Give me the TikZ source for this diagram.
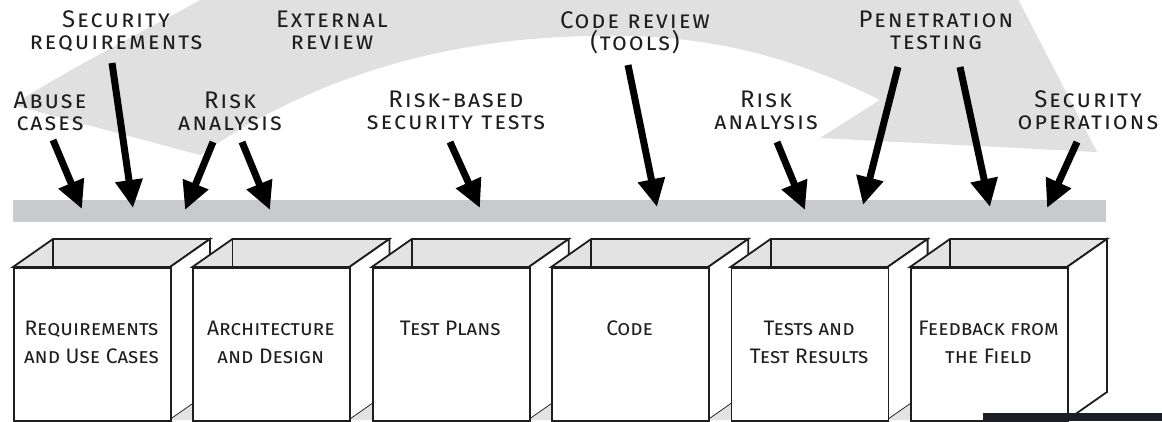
\documentclass[tikz,border=0pt]{standalone}
\usepackage{fontspec}
\setmainfont{Fira Sans}
\usetikzlibrary{arrows.meta}
\definecolor{band}{HTML}{E0E0E0}
\definecolor{barg}{HTML}{C9CACE}
\definecolor{topg}{HTML}{E3E3E3}
\definecolor{ink}{HTML}{1E1E1E}
\definecolor{darkbar}{HTML}{1C2026}
\begin{document}
\begin{tikzpicture}[x=1pt,y=-1pt,
 lab/.style={align=center,inner sep=0pt,anchor=base,font=\fontsize{24}{22}\selectfont\addfontfeature{LetterSpace=8}\scshape,text=ink},
 boxlab/.style={align=center,inner sep=0pt,anchor=base,font=\fontsize{21}{28}\selectfont\scshape,text=ink},
 feed/.style={line width=7pt,draw=black,-{Triangle[width=26pt,length=28pt]}},
 edge/.style={draw=ink,line width=1.8pt,line join=miter}]

\useasboundingbox (0,0) rectangle (1162,421);
\fill[white] (0,0) rectangle (1162,421);

% big curved gray arrow
\begin{scope}
\clip (0,0) rectangle (1162,421);
\fill[band] (13,105) .. controls (70,68) and (150,28) .. (215,-8) -- (230,-30) -- (1003,-30)
  -- (1097,152) -- (820,138) -- (880,100)
  .. controls (780,50) and (690,33) .. (590,36)
  .. controls (470,38) and (330,65) .. (200,155) -- cycle;
\end{scope}

% bar
\node[fill=barg, minimum width=1093pt, minimum height=22pt, inner sep=0pt, anchor=north west] (bar) at (13,200) {};

% labels (anchor = baseline of last line)
\node[lab] (abuse) at (50,130) {Abuse\\cases};
\node[lab] (secreq) at (116,49) {Security\\requirements};
\node[lab] (ext) at (332,49) {External\\review};
\node[lab] (risk1) at (230,130) {Risk\\analysis};
\node[lab] (rbst) at (456,129) {Risk-based\\security tests};
\node[lab] (code) at (635,50) {Code review\\(tools)};
\node[lab] (risk2) at (766,129) {Risk\\analysis};
\node[lab] (pen) at (936,49) {Penetration\\testing};
\node[lab] (secops) at (1088,129) {Security\\operations};

% arrows
\coordinate (s1) at (53,140);   \coordinate (e1) at (82,209);
\coordinate (s2) at (112,63);   \coordinate (e2) at (133,208);
\coordinate (s3) at (213,142);  \coordinate (e3) at (185,210);
\coordinate (s4) at (242,142);  \coordinate (e4) at (270,210);
\coordinate (s5) at (450,142);  \coordinate (e5) at (480,208);
\coordinate (s6) at (628,65);   \coordinate (e6) at (657,207);
\coordinate (s7) at (777,142);  \coordinate (e7) at (805,210);
\coordinate (s8) at (898,67);   \coordinate (e8) at (863,205);
\coordinate (s9) at (960,67);   \coordinate (e9) at (990,207);
\coordinate (s10) at (1077,142); \coordinate (e10) at (1047,208);
\foreach \k in {1,...,10} { \draw[feed] (s\k) -- (e\k); }

% boxes
\foreach \i/\t/\yb in {0/{Requirements\\and Use Cases}/363,1/{Architecture\\and Design}/363,2/{Test Plans}/335,3/{Code}/335,4/{Tests and\\Test Results}/363,5/{Feedback from\\the Field}/363} {
  \pgfmathsetmacro\xa{13+179.4*\i}
  \pgfmathsetmacro\xb{\xa+40}
  \pgfmathsetmacro\xc{\xa+157}
  \pgfmathsetmacro\xd{\xa+197}
  \pgfmathsetmacro\xe{\xa+181}
  \pgfmathsetmacro\xm{\xa+78.5}
  \filldraw[edge, fill=topg] (\xa,267) -- (\xb,239) -- (\xd,239) -- (\xc,267) -- cycle;
  \draw[edge] (\xb,239) -- (\xb,267);
  \filldraw[edge, fill=white] (\xc,267) -- (\xd,239) -- (\xd,392) -- (\xc,420) -- cycle;
  \ifnum\i<5 \fill[topg] (\xc,420) -- (\xe,403.2) -- (\xe,420) -- cycle; \fi
  \node[draw=ink, line width=1.8pt, fill=white, minimum width=157pt, minimum height=153pt, inner sep=0pt, anchor=north west] (box\i) at (\xa,267) {};
  \node[boxlab] (blab\i) at (\xm,\yb) {\t};
}

\fill[darkbar] (983,413) rectangle (1162,421);
\end{tikzpicture}
\end{document}
